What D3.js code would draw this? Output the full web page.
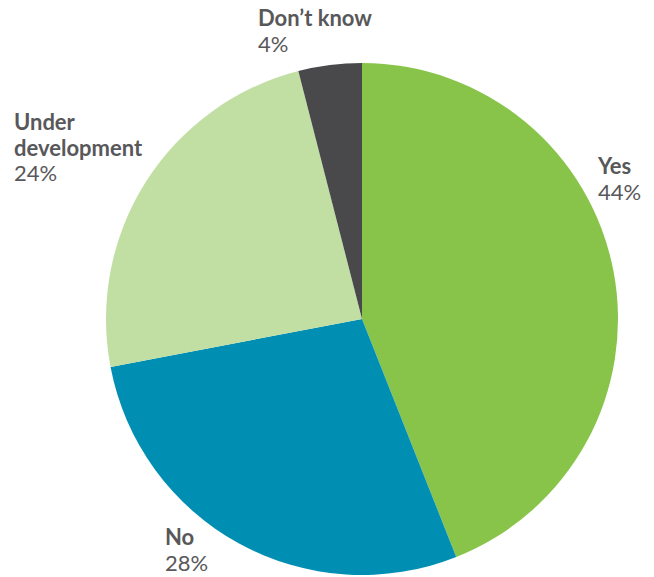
<!DOCTYPE html>
<html>
<head>
<meta charset="utf-8">
<script src="https://cdn.jsdelivr.net/npm/d3@7"></script>
<style>
  html, body { margin: 0; padding: 0; background: #fff; }
  svg { display: block; }
  text { font-family: Lato, "Open Sans", sans-serif; fill: #58585a; }
</style>
</head>
<body>
<svg id="chart" width="654" height="577"></svg>
<script>
// Survey answers, clockwise from 12 o'clock
const categories = ["Yes", "No", "Under development", "Don\u2019t know"];
const shares = [44, 28, 24, 4];
const colors = ["#88c44a", "#008eb2", "#c2dfa3", "#49494c"];
// Label lines and anchor points per slice
const labelLines = [["Yes"], ["No"], ["Under", "development"], ["Don\u2019t know"]];
const labelPos = [[598, 174], [165, 545], [14, 130], [258, 26]];

const svg = d3.select("#chart");
const cx = 362, cy = 319, r = 256;

const pie = d3.pie().sort(null).value(d => d.value);
const arc = d3.arc().innerRadius(0).outerRadius(r);
const data = categories.map((c, i) => ({ name: c, value: shares[i], color: colors[i] }));

const g = svg.append("g").attr("transform", `translate(${cx},${cy})`);
g.selectAll("path")
  .data(pie(data))
  .join("path")
  .attr("d", arc)
  .attr("fill", d => d.data.color);

const lh = 25.5;
data.forEach((d, i) => {
  const [x, y] = labelPos[i];
  const t = svg.append("text").attr("x", x).attr("y", y).style("font-size", "22px");
  labelLines[i].forEach((line, j) => {
    t.append("tspan").attr("x", x).attr("dy", j === 0 ? 0 : lh)
      .style("font-weight", "bold").text(line);
  });
  t.append("tspan").attr("x", x).attr("dy", lh).text(d.value + "%");
});
</script>
</body>
</html>
